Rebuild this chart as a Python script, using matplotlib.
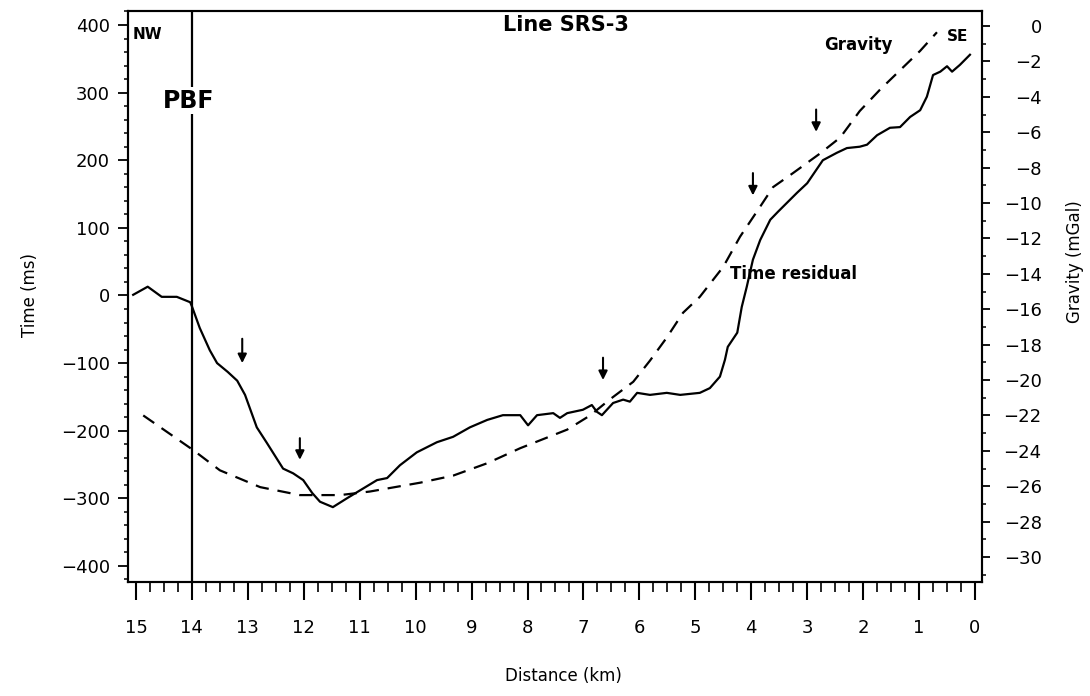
"""
Line SRS-3: time residual and gravity profile along distance.
"""

import matplotlib
matplotlib.use("Agg")
import matplotlib.pyplot as plt
from matplotlib.ticker import MultipleLocator

# time residual (ms) vs distance (km)
dist_time = [15.05, 14.79, 14.54, 14.27, 14.03, 14.00, 13.86, 13.68, 13.55, 13.36,
             13.19, 13.05, 12.84, 12.66, 12.37, 12.19, 12.01, 11.85, 11.71, 11.48,
             11.23, 10.99, 10.69, 10.51, 10.28, 9.98, 9.62, 9.33, 9.03, 8.72,
             8.44, 8.13, 7.99, 7.83, 7.54, 7.42, 7.29, 7.01, 6.85, 6.76,
             6.67, 6.47, 6.29, 6.17, 6.04, 5.81, 5.51, 5.27, 4.92, 4.74,
             4.56, 4.47, 4.42, 4.25, 4.17, 4.08, 3.97, 3.84, 3.66, 3.52,
             3.18, 3.00, 2.72, 2.47, 2.29, 2.06, 1.93, 1.75, 1.52, 1.34,
             1.16, 0.98, 0.86, 0.75, 0.62, 0.50, 0.41, 0.27, 0.09]
time_resid = [1, 13, -2, -2, -10, -16, -48, -81, -100, -113,
              -126, -147, -195, -218, -256, -263, -273, -292, -305, -313,
              -300, -288, -273, -270, -251, -232, -217, -209, -195, -184,
              -177, -177, -192, -177, -174, -181, -174, -169, -162, -172,
              -177, -159, -154, -157, -144, -147, -144, -147, -144, -137,
              -120, -95, -76, -55, -17, 13, 53, 82, 112, 124,
              152, 166, 200, 211, 218, 220, 223, 237, 248, 249,
              264, 274, 294, 326, 331, 339, 331, 341, 356]

# gravity (mGal) vs distance (km)
dist_grav = [14.87, 13.98, 13.50, 12.78, 12.07, 11.35, 10.82, 9.92, 9.33, 8.72,
             8.13, 7.29, 6.88, 6.53, 6.11, 5.81, 5.51, 5.22, 4.92, 4.50,
             4.20, 3.84, 3.61, 3.25, 2.77, 2.41, 2.06, 1.70, 1.34, 0.98, 0.68]
gravity = [-22.0, -23.95, -25.1, -26.05, -26.5, -26.5, -26.3, -25.8, -25.4, -24.7,
           -23.85, -22.8, -22.0, -21.1, -20.1, -18.9, -17.6, -16.2, -15.3, -13.6,
           -11.9, -10.2, -9.1, -8.3, -7.2, -6.3, -4.8, -3.6, -2.5, -1.4, -0.35]

# arrow markers: distance (km), arrow tail and tip (ms)
arrow_km = [13.10, 12.07, 6.65, 3.97, 2.84]
arrow_top = [-64, -211, -92, 181, 275]
arrow_tip = [-100, -243, -125, 148, 242]

fault_km = 14.0

plt.rcParams["font.family"] = ["DejaVu Sans"]

fig = plt.figure(figsize=(10.9, 6.96), dpi=100)
ax = fig.add_axes([0.1174, 0.1638, 0.7835, 0.8204])
ax2 = ax.twinx()

ax.plot(dist_time, time_resid, color="black", lw=1.6)
ax2.plot(dist_grav, gravity, color="black", lw=1.6, dashes=(6, 4))
ax.axvline(fault_km, color="black", lw=1.6)

for d, top, tip in zip(arrow_km, arrow_top, arrow_tip):
    ax.annotate("", xy=(d, tip), xytext=(d, top),
                arrowprops=dict(arrowstyle="-|>", color="black", lw=1.5,
                                mutation_scale=13, shrinkA=0, shrinkB=0))

ax.set_xlim(15.143, -0.125)
ax.set_ylim(-423.7, 420.7)
ax2.set_ylim(-31.41, 0.85)

ax.xaxis.set_major_locator(MultipleLocator(1))
ax.xaxis.set_minor_locator(MultipleLocator(0.25))
ax.yaxis.set_major_locator(MultipleLocator(100))
ax.yaxis.set_minor_locator(MultipleLocator(20))
ax2.yaxis.set_major_locator(MultipleLocator(2))
ax2.yaxis.set_minor_locator(MultipleLocator(1))

ax.tick_params(axis="x", which="major", direction="out", length=13, width=1.5,
               pad=14, labelsize=13)
ax.tick_params(axis="x", which="minor", direction="out", length=7, width=1.2)
ax.tick_params(axis="y", which="major", direction="out", length=7, width=1.3,
               pad=6, labelsize=13)
ax.tick_params(axis="y", which="minor", direction="out", length=3, width=1.1)
ax2.tick_params(axis="y", which="major", direction="out", length=6, width=1.3,
                pad=37, labelsize=13)
ax2.tick_params(axis="y", which="minor", direction="out", length=3, width=1.1)
for lab in ax2.get_yticklabels():
    lab.set_horizontalalignment("right")

for a in (ax, ax2):
    for sp in a.spines.values():
        sp.set_linewidth(1.5)

ax.text(0.005, 0.958, "NW", transform=ax.transAxes, ha="left", va="center",
        fontsize=11, fontweight="bold")
ax.text(0.971, 0.956, "SE", transform=ax.transAxes, ha="center", va="center",
        fontsize=11, fontweight="bold")
ax.text(0.513, 0.975, "Line SRS-3", transform=ax.transAxes, ha="center",
        va="center", fontsize=15, fontweight="bold")
ax.text(0.855, 0.940, "Gravity", transform=ax.transAxes, ha="center",
        va="center", fontsize=12, fontweight="bold")
ax.text(0.779, 0.539, "Time residual", transform=ax.transAxes, ha="center",
        va="center", fontsize=12, fontweight="bold")
ax.text(14.05, 288, "PBF", ha="center", va="center", fontsize=17,
        fontweight="bold",
        bbox=dict(facecolor="white", edgecolor="none", pad=1))

fig.text(0.0275, 0.576, "Time (ms)", rotation=90, ha="center", va="center",
         fontsize=12)
fig.text(0.986, 0.624, "Gravity (mGal)", rotation=90, ha="center",
         va="center", fontsize=12)
fig.text(0.5165, 0.029, "Distance (km)", ha="center", va="center", fontsize=12)

fig.savefig("out.png", dpi=100)
